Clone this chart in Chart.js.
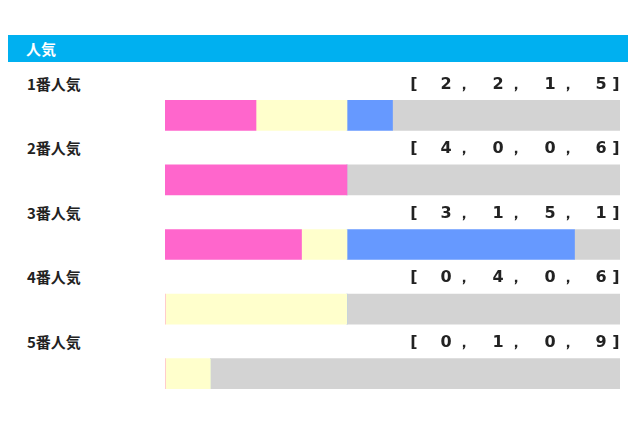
<!DOCTYPE html>
<html><head><meta charset="utf-8">
<script src="https://cdn.jsdelivr.net/npm/chart.js@4/dist/chart.umd.min.js"></script>
<style>
body{margin:0;background:#fff;width:640px;height:426px;position:relative;overflow:hidden;font-family:"Noto Sans CJK JP",sans-serif}
#hdr{position:absolute;left:8px;top:35px;width:620px;height:27px;background:#00b0f0;color:#fff;font-weight:bold;font-size:15px;line-height:27px;padding-left:18px;box-sizing:border-box}
.lbl{position:absolute;left:27px;font-weight:bold;font-size:15px;color:#222;line-height:18px}
.ch{position:absolute;font-weight:bold;font-size:16px;color:#222;line-height:18px;font-family:"DejaVu Sans",sans-serif;transform:translateX(-50%)}
#wrap{position:absolute;left:165px;top:83px;width:455px;height:323px}
</style></head><body>
<div id="hdr">人気</div>
<div id="wrap"><canvas id="c"></canvas></div>
<script>
const categories=["1番人気","2番人気","3番人気","4番人気","5番人気"];
const s1=[2,4,3,0,0];
const s2=[2,0,1,4,1];
const s3=[1,0,5,0,0];
const s4=[5,6,1,6,9];
const colors=["#ff66cc","#ffffcc","#6699ff","#d3d3d3"];
const series=[s1,s2,s3,s4];
const rowY=[75,139,204,268,333];
categories.forEach((c,i)=>{
  const d=document.createElement('div');d.className='lbl';d.textContent=c;d.style.top=rowY[i]+'px';document.body.appendChild(d);
  const vals=series.map(s=>s[i]);
  const items=[["[",414]];
  const xs=[446,498,550,601];
  vals.forEach((v,k)=>{items.push([String(v),xs[k]]);if(k<3)items.push(["，",xs[k]+18]);});
  items.push(["]",616]);
  items.forEach(([t,x])=>{const e=document.createElement('div');e.className='ch';e.textContent=t;e.style.left=x+'px';e.style.top=rowY[i]+'px';document.body.appendChild(e);});
});
new Chart(document.getElementById('c'),{type:'bar',
 data:{labels:categories,datasets:series.map((s,k)=>({data:s,backgroundColor:colors[k],barThickness:30,borderWidth:0}))},
 options:{indexAxis:'y',responsive:true,maintainAspectRatio:false,animation:false,
  layout:{padding:0},
  plugins:{legend:{display:false},tooltip:{enabled:false}},
  scales:{x:{stacked:true,min:0,max:10,display:false},y:{stacked:true,display:false}}}});
</script>
</body></html>
